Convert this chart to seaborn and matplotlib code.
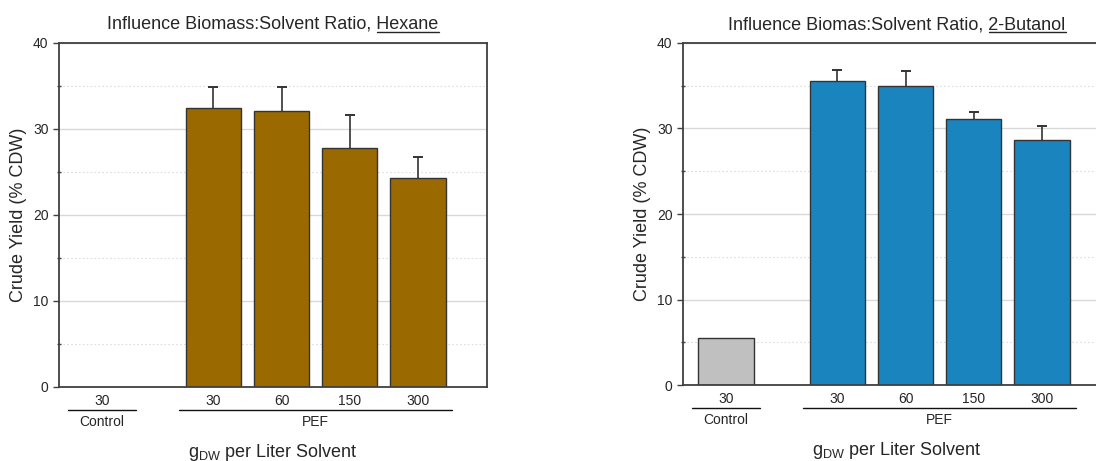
import numpy as np
import pandas as pd
import matplotlib
matplotlib.use("Agg")
import matplotlib.pyplot as plt
import seaborn as sns
from matplotlib.lines import Line2D
from matplotlib.ticker import MultipleLocator

# Biomass loading (g dry weight per liter solvent) and treatment group
groups = ["Control", "PEF", "PEF", "PEF", "PEF"]
loading_labels = ["30", "30", "60", "150", "300"]

# Crude yield (% CDW) with upper standard deviation
hexane_yield = [np.nan, 32.4, 32.1, 27.7, 24.3]
hexane_err = [0.0, 2.5, 2.8, 3.9, 2.4]
butanol_yield = [5.45, 35.5, 35.0, 31.1, 28.7]
butanol_err = [0.0, 1.4, 1.7, 0.8, 1.6]

# bar positions on the x axis (control set apart from the PEF series)
positions = [0.0, 1.63, 2.63, 3.63, 4.63]

sns.set_style("ticks")
plt.rcParams["font.family"] = ["Liberation Sans", "DejaVu Sans"]
plt.rcParams["mathtext.fontset"] = "custom"
plt.rcParams["mathtext.rm"] = "Liberation Sans"
plt.rcParams["mathtext.it"] = "Liberation Sans:italic"

TEXT = "#262626"
EDGE = "#333333"
SPINE = "#404040"

W, H = 1096, 461
fig = plt.figure(figsize=(W / 100, H / 100), dpi=100)
ax_l = fig.add_axes([59 / W, 1 - 386.7 / H, 428 / W, 344 / H])
ax_r = fig.add_axes([683 / W, 1 - 385 / H, 428 / W, 342 / H])


def draw_panel(ax, values, errors, pef_color, title_prefix, solvent):
    df = pd.DataFrame({"pos": positions, "yield": values, "group": groups})
    df = df.dropna()
    sns.barplot(data=df, x="pos", y="yield", hue="group",
                palette={"Control": "#c0c0c0", "PEF": pef_color},
                native_scale=True, width=0.81, dodge=False, errorbar=None,
                saturation=1, edgecolor=EDGE, linewidth=1.0, legend=False,
                ax=ax, zorder=2)
    keep = ~np.isnan(np.asarray(values, dtype=float))
    pos = np.asarray(positions)[keep]
    val = np.asarray(values, dtype=float)[keep]
    err = np.asarray(errors, dtype=float)[keep]
    has_err = err > 0
    # upper error whiskers with a cap at the top only
    ax.vlines(pos[has_err], val[has_err], val[has_err] + err[has_err],
              colors=EDGE, lw=1.2, zorder=3)
    ax.plot(pos[has_err], val[has_err] + err[has_err], ls="none", marker="_",
            ms=7, mew=1.4, color=EDGE, zorder=3)

    ax.set_xlim(-0.63, 5.64)
    ax.set_ylim(0, 40)
    ax.yaxis.set_major_locator(MultipleLocator(10))
    ax.yaxis.set_minor_locator(MultipleLocator(5))
    ax.grid(which="major", axis="y", color="#d9d9d9", lw=1.0, zorder=0)
    ax.grid(which="minor", axis="y", color="#dddddd", lw=0.8,
            ls=(0, (1.5, 2)), zorder=0)
    ax.set_axisbelow(True)

    ax.set_xticks(positions)
    ax.set_xticklabels(loading_labels)
    ax.tick_params(axis="x", length=0, pad=5, labelsize=10, labelcolor=TEXT)
    ax.tick_params(axis="y", which="major", direction="out", length=4,
                   width=1, color=SPINE, pad=3.5, labelsize=10, labelcolor=TEXT)
    ax.tick_params(axis="y", which="minor", direction="inout", length=3,
                   width=1, color=SPINE)
    for s in ax.spines.values():
        s.set_visible(True)
        s.set_color(SPINE)
        s.set_linewidth(1.3)

    ax.set_xlabel("")
    ax.set_ylabel("Crude Yield (% CDW)", fontsize=13, color=TEXT, va="center")
    ax.yaxis.set_label_coords(-40.5 / 428, 0.5)
    ax.text(0.5, -70 / 344, r"g$_{\mathregular{DW}}$ per Liter Solvent",
            transform=ax.transAxes, ha="center", va="baseline",
            fontsize=13, color=TEXT)

    # group brackets below the tick labels
    tr = ax.get_xaxis_transform()
    spans = [("Control", positions[0] - 0.5, positions[0] + 0.5),
             ("PEF", positions[1] - 0.5, positions[-1] + 0.5)]
    for name, x0, x1 in spans:
        ax.add_line(Line2D([x0, x1], [-23 / 344, -23 / 344], transform=tr,
                           color="#111111", lw=1.0, clip_on=False))
        ax.text((x0 + x1) / 2, -35 / 344, name, transform=tr, ha="center",
                va="center", fontsize=10, color=TEXT)

    title = ax.set_title(title_prefix + solvent, fontsize=13, color=TEXT, pad=10)
    return title, solvent


titles = [
    draw_panel(ax_l, hexane_yield, hexane_err, "#9a6a00",
               "Influence Biomass:Solvent Ratio, ", "Hexane"),
    draw_panel(ax_r, butanol_yield, butanol_err, "#1a84be",
               "Influence Biomas:Solvent Ratio, ", "2-Butanol"),
]

# underline the solvent name in each title
fig.canvas.draw()
renderer = fig.canvas.get_renderer()
for title, word in titles:
    bb = title.get_window_extent(renderer)
    probe = fig.text(0, 0, word, fontsize=13)
    wb = probe.get_window_extent(renderer)
    probe.remove()
    base_y = title.get_transform().transform(title.get_position())[1]
    y = base_y - 3
    (fx0, fy), (fx1, _) = fig.transFigure.inverted().transform(
        [(bb.x1 - wb.width, y), (bb.x1, y)])
    fig.add_artist(Line2D([fx0, fx1], [fy, fy], transform=fig.transFigure,
                          color=TEXT, lw=1.0))

fig.savefig("out.png", dpi=100)
